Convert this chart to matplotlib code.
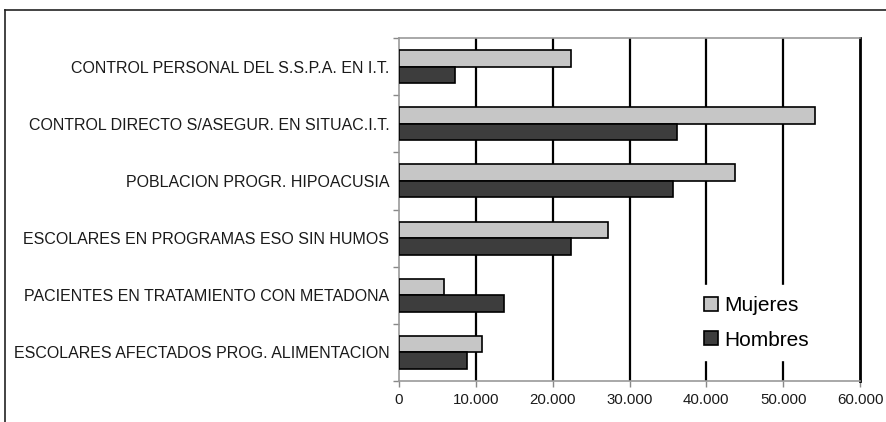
import numpy as np
import matplotlib.pyplot as plt
from matplotlib.lines import Line2D

plt.rcParams['font.family'] = ['Liberation Sans', 'DejaVu Sans']

# Data (top to bottom as shown)
categorias = [
    'CONTROL PERSONAL DEL S.S.P.A. EN I.T.',
    'CONTROL DIRECTO S/ASEGUR. EN SITUAC.I.T.',
    'POBLACION PROGR. HIPOACUSIA',
    'ESCOLARES EN PROGRAMAS ESO SIN HUMOS',
    'PACIENTES EN TRATAMIENTO CON METADONA',
    'ESCOLARES AFECTADOS PROG. ALIMENTACION',
]
mujeres = [22400, 54200, 43700, 27200, 5900, 10800]
hombres = [7300, 36200, 35700, 22400, 13700, 8800]
xticks = [0, 10000, 20000, 30000, 40000, 50000, 60000]
xlabels = ['0', '10.000', '20.000', '30.000', '40.000', '50.000', '60.000']

fig = plt.figure(figsize=(8.86, 4.22), dpi=100)
ax = fig.add_axes([399 / 886, 1 - 381 / 422, (860 - 399) / 886, (381 - 38) / 422])

y = np.arange(len(categorias))
h = 0.29
ax.barh(y - h / 2, mujeres, height=h, color='#c6c6c6', edgecolor='black',
        linewidth=1.2, label='Mujeres', zorder=3)
ax.barh(y + h / 2, hombres, height=h, color='#3d3d3d', edgecolor='black',
        linewidth=1.2, label='Hombres', zorder=3)

ax.set_ylim(len(categorias) - 0.5, -0.5)
ax.set_xlim(0, 60000)
ax.set_yticks(y)
ax.set_yticklabels(categorias, fontsize=11.5, color='#1a1a1a')
ax.set_yticks(np.arange(-0.5, len(categorias)), minor=True)
ax.tick_params(axis='y', which='major', length=0, pad=7)
ax.tick_params(axis='y', which='minor', length=4, color='#888888', width=1)
ax.set_xticks(xticks)
ax.set_xticklabels(xlabels, fontsize=10.8, color='#1a1a1a')
ax.tick_params(axis='x', length=4, color='#888888', width=1, pad=5)

for xv in xticks[1:-1]:
    ax.axvline(xv, color='black', linewidth=1.6, zorder=1)

ax.spines['right'].set_color('black')
ax.spines['right'].set_linewidth(2)
for s in ['top', 'bottom', 'left']:
    ax.spines[s].set_color('#999999')
    ax.spines[s].set_linewidth(1.2)

leg = ax.legend(loc='center left', bbox_to_anchor=(0.617, 0.17), frameon=True,
                fontsize=15, handlelength=0.65, handleheight=0.65,
                handletextpad=0.3, labelspacing=0.75, borderpad=0.5)
leg.get_frame().set_edgecolor('white')
leg.get_frame().set_facecolor('white')
leg.get_frame().set_alpha(1)
leg.set_zorder(5)

# outer border of the chart area
fig.add_artist(Line2D([5 / 886, 1], [1 - 10 / 422, 1 - 10 / 422],
                      transform=fig.transFigure, color='#222222', linewidth=1.2))
fig.add_artist(Line2D([5 / 886, 5 / 886], [0, 1 - 10 / 422],
                      transform=fig.transFigure, color='#222222', linewidth=1.2))

fig.savefig('out.png', dpi=100)
